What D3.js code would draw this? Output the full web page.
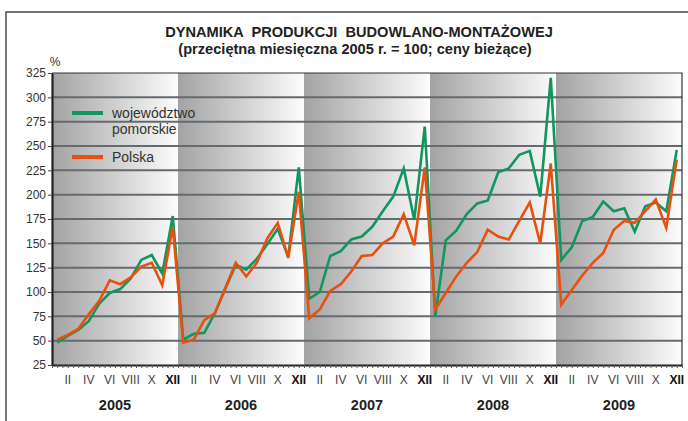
<!DOCTYPE html>
<html>
<head>
<meta charset="utf-8">
<script src="https://cdn.jsdelivr.net/npm/d3@7"></script>
<style>
  body { margin: 0; background: #fff; }
  svg { display: block; font-family: Arial, "Liberation Sans", sans-serif; }
</style>
</head>
<body>
<svg id="chart" width="688" height="421"></svg>
<script>
// data: monthly values, 2005-2009 (index 0 = Jan 2005)
const years = [2005, 2006, 2007, 2008, 2009];
const monthLabels = ['', 'II', '', 'IV', '', 'VI', '', 'VIII', '', 'X', '', 'XII'];
const yTicks = [25, 50, 75, 100, 125, 150, 175, 200, 225, 250, 275, 300, 325];

const pomorskie = [
  48, 55, 61, 70, 88, 99, 103, 114, 133, 138, 119, 178,
  51, 57, 58, 78, 103, 128, 123, 134, 149, 165, 136, 228,
  93, 100, 137, 142, 154, 157, 167, 183, 198, 227, 174, 270,
  75, 153, 163, 180, 191, 194, 223, 227, 241, 245, 198, 320,
  133, 146, 173, 177, 193, 183, 186, 162, 188, 192, 183, 246
];
const polska = [
  51, 56, 62, 77, 91, 112, 108, 115, 126, 130, 107, 167,
  48, 51, 71, 78, 104, 130, 116, 130, 155, 171, 135, 203,
  73, 82, 101, 108, 121, 137, 138, 150, 157, 180, 148, 228,
  82, 99, 116, 130, 141, 164, 157, 154, 173, 192, 150, 232,
  87, 102, 117, 130, 140, 164, 173, 171, 183, 195, 166, 236
];

const series = [
  { name: 'pomorskie', values: pomorskie, color: '#11965f' },
  { name: 'Polska', values: polska, color: '#e8500e' }
];

const marginLeft = 52, plotRight = 682, plotTop = 73, plotBottom = 365;
const svg = d3.select('#chart');

const x = d3.scaleBand().domain(d3.range(60)).range([marginLeft, plotRight]);
const xLin = d3.scaleLinear().domain([0, 60]).range([marginLeft, plotRight]);
const yearScale = d3.scaleBand().domain(years).range([marginLeft, plotRight]);
const y = d3.scaleLinear().domain([25, 325]).range([plotBottom, plotTop]);

// outer frame
svg.append('path')
  .attr('d', `M6,421 V12 H688`)
  .attr('fill', 'none')
  .attr('stroke', '#4a4a4a')
  .attr('stroke-width', 1.5);

// titles
svg.append('text')
  .attr('x', 359).attr('y', 37)
  .attr('text-anchor', 'middle')
  .attr('font-size', 14.6).attr('font-weight', 'bold').attr('fill', '#222')
  .attr('xml:space', 'preserve')
  .text('DYNAMIKA  PRODUKCJI  BUDOWLANO-MONTAŻOWEJ');
svg.append('text')
  .attr('x', 355).attr('y', 54)
  .attr('text-anchor', 'middle')
  .attr('font-size', 14.6).attr('font-weight', 'bold').attr('fill', '#222')
  .text('(przeciętna miesięczna 2005 r. = 100; ceny bieżące)');

// year band gradients
const defs = svg.append('defs');
const grad = defs.append('linearGradient')
  .attr('id', 'yearGrad')
  .attr('x1', 0).attr('x2', 1).attr('y1', 0).attr('y2', 0);
grad.append('stop').attr('offset', '0%').attr('stop-color', '#a3a3a3');
grad.append('stop').attr('offset', '100%').attr('stop-color', '#fcfcfc');

svg.append('g')
  .selectAll('rect')
  .data(years)
  .join('rect')
  .attr('x', d => yearScale(d))
  .attr('y', plotTop)
  .attr('width', yearScale.bandwidth())
  .attr('height', plotBottom - plotTop)
  .attr('fill', 'url(#yearGrad)');

// grid lines
svg.append('g')
  .selectAll('line')
  .data(yTicks.filter(d => d > 25 && d < 325))
  .join('line')
  .attr('x1', marginLeft).attr('x2', plotRight)
  .attr('y1', d => y(d)).attr('y2', d => y(d))
  .attr('stroke', '#646a70')
  .attr('stroke-width', 2);

// plot border (top, right)
svg.append('path')
  .attr('d', `M${marginLeft},${plotTop} H${plotRight} V${plotBottom}`)
  .attr('fill', 'none')
  .attr('stroke', '#333')
  .attr('stroke-width', 1.2);

// lines
const line = d3.line()
  .x((d, i) => x(i) + x.bandwidth() / 2)
  .y(d => y(d));

svg.append('g')
  .selectAll('path')
  .data(series)
  .join('path')
  .attr('d', d => line(d.values))
  .attr('fill', 'none')
  .attr('stroke', d => d.color)
  .attr('stroke-width', 2.6)
  .attr('stroke-linejoin', 'miter');

// y axis
svg.append('g')
  .attr('transform', `translate(${marginLeft},0)`)
  .call(d3.axisLeft(y).tickValues(yTicks).tickSize(4).tickSizeOuter(0))
  .call(g => g.select('.domain').attr('stroke', '#222').attr('stroke-width', 2.2))
  .call(g => g.selectAll('.tick line').attr('stroke', '#444'))
  .call(g => g.selectAll('.tick text')
    .attr('font-size', 12).attr('fill', '#333')
    .attr('font-family', 'Arial, "Liberation Sans", sans-serif')
    .attr('x', -6));

svg.append('text')
  .attr('x', 55).attr('y', 66)
  .attr('text-anchor', 'middle')
  .attr('font-size', 12).attr('fill', '#333')
  .text('%');

// x axis
svg.append('g')
  .attr('transform', `translate(0,${plotBottom})`)
  .call(d3.axisBottom(xLin).tickValues(d3.range(0, 60.5, 0.5)).tickSize(3).tickFormat('').tickSizeOuter(0))
  .call(g => g.select('.domain').attr('stroke', '#222').attr('stroke-width', 2.2))
  .call(g => g.selectAll('.tick line').attr('stroke', '#555'));

svg.append('g')
  .selectAll('text')
  .data(d3.range(60).filter(i => monthLabels[i % 12] !== ''))
  .join('text')
  .attr('x', i => x(i) + x.bandwidth() / 2)
  .attr('y', 384)
  .attr('text-anchor', 'middle')
  .attr('font-size', 12)
  .attr('font-weight', i => i % 12 === 11 ? 'bold' : 'normal')
  .attr('fill', i => i % 12 === 11 ? '#111' : '#444')
  .text(i => monthLabels[i % 12]);

svg.append('g')
  .selectAll('text')
  .data(years)
  .join('text')
  .attr('x', d => yearScale(d) + yearScale.bandwidth() / 2)
  .attr('y', 410)
  .attr('text-anchor', 'middle')
  .attr('font-size', 14.5)
  .attr('font-weight', 'bold')
  .attr('fill', '#222')
  .text(d => d);

// legend
const legend = svg.append('g');
const legendItems = [
  { color: series[0].color, lines: ['województwo', 'pomorskie'], y: 113 },
  { color: series[1].color, lines: ['Polska'], y: 157 }
];
legendItems.forEach(item => {
  legend.append('line')
    .attr('x1', 72).attr('x2', 103)
    .attr('y1', item.y).attr('y2', item.y)
    .attr('stroke', item.color)
    .attr('stroke-width', 4);
  item.lines.forEach((t, k) => {
    legend.append('text')
      .attr('x', 112).attr('y', item.y + 5 + k * 16)
      .attr('font-size', 14).attr('fill', '#333')
      .text(t);
  });
});
</script>
</body>
</html>
